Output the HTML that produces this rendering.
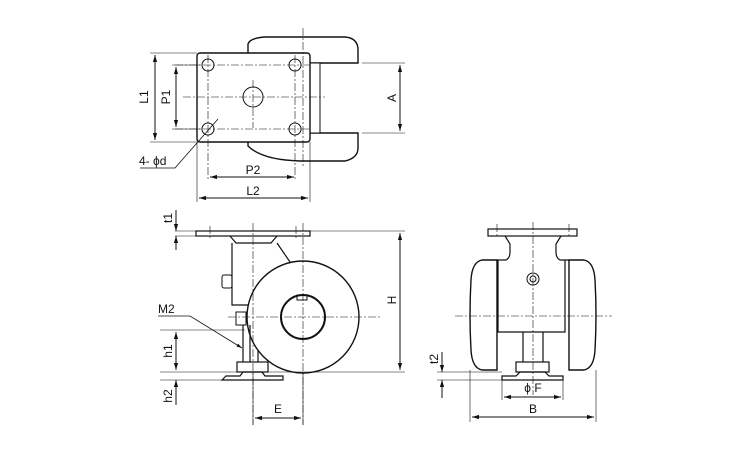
<!DOCTYPE html>
<html><head><meta charset="utf-8"><style>
body{margin:0;background:#fff}
svg{display:block}
text{font-family:"Liberation Sans",sans-serif;font-size:12px;fill:#111}
</style></head><body>
<svg width="750" height="450" viewBox="0 0 750 450">
<defs>
<marker id="a" viewBox="0 0 10 10" refX="10" refY="5" markerWidth="7" markerHeight="7" orient="auto-start-reverse"><path d="M0,2 L10,5 L0,8 z" fill="#111"/></marker>
</defs>
<g fill="none" stroke="#111" stroke-width="1">
<!-- TOP VIEW -->
<path d="M248,63 V44 Q250,38 265,37 H345 Q358,38 358,50 V63 Z" fill="#fff" stroke-width="1.4"/>
<path d="M248,133 V146 Q262,160 300,161 H345 Q358,158 358,148 V133 Z" fill="#fff" stroke-width="1.4"/>
<rect x="310" y="63" width="10" height="70" fill="#fff"/>
<rect x="197" y="53" width="113" height="89" rx="3" fill="#fff" stroke-width="1.4"/>
<circle cx="208" cy="65" r="6"/><circle cx="295" cy="65" r="6"/>
<circle cx="208" cy="129" r="6"/><circle cx="295" cy="129" r="6"/>
<circle cx="253" cy="97" r="10"/>
<g stroke-dasharray="8,2,2,2" stroke-width="0.6">
<path d="M303,28 V168 M183,97 H325 M253,80 V128 M175,65 H310 M175,129 H310 M208,55 V180 M295,55 V180"/>
</g>
<path d="M150,53 H197 M150,142 H197 M172,65 H200 M172,129 H200" stroke-width="0.6"/>
<path d="M155,55 V140" marker-start="url(#a)" marker-end="url(#a)"/>
<path d="M176,67 V127" marker-start="url(#a)" marker-end="url(#a)"/>
<path d="M362,63 H405 M362,133 H405" stroke-width="0.6"/>
<path d="M400,65 V131" marker-start="url(#a)" marker-end="url(#a)"/>
<path d="M197,142 V202 M310,142 V202" stroke-width="0.6"/>
<path d="M210,177 H294" marker-start="url(#a)" marker-end="url(#a)"/>
<path d="M199,198 H308" marker-start="url(#a)" marker-end="url(#a)"/>
<path d="M140,168 H175 L218,119" stroke-width="0.8"/>
<!-- SIDE VIEW -->
<rect x="196" y="231" width="114" height="5" fill="#fff" stroke-width="1.2"/>
<path d="M230,236 L236,243 H271 L277,236" stroke-width="1.2"/>
<path d="M232,243 V305 H250 M277,243 L290,262" stroke-width="1.2"/>
<rect x="222" y="275" width="10" height="13" rx="2"/>
<circle cx="303" cy="317" r="56" fill="#fff" stroke-width="1.4"/>
<circle cx="303" cy="317" r="22" stroke-width="2"/>
<rect x="297" y="295" width="10" height="5"/>
<rect x="236" y="312" width="10" height="13" fill="#fff"/>
<path d="M243,325 V362 M250,325 V362 M258,362 V350" stroke-width="1.2"/>
<rect x="237" y="362" width="31" height="10" fill="#fff" stroke-width="1.2"/>
<path d="M222,380 L226,376 H240 L243,372 H262 L265,376 H283 L283,380 Z" stroke-width="1.2"/>
<g stroke-dasharray="8,2,2,2" stroke-width="0.6">
<path d="M253,223 V425 M303,223 V425 M210,226 V240 M296,226 V240 M228,317 H380"/>
</g>
<path d="M310,231 H405 M175,231 H196 M175,236 H196 M160,330 H245 M160,372 H405 M160,380 H222 M253,372 V425 M303,372 V425" stroke-width="0.6"/>
<path d="M400,233 V370" marker-start="url(#a)" marker-end="url(#a)"/>
<path d="M176,210 V231" marker-end="url(#a)"/>
<path d="M176,250 V236" marker-end="url(#a)"/>
<path d="M176,332 V370" marker-start="url(#a)" marker-end="url(#a)"/>
<path d="M176,405 V380" marker-end="url(#a)"/>
<path d="M255,418 H301" marker-start="url(#a)" marker-end="url(#a)"/>
<path d="M158,316 H190 L242,348" stroke-width="0.8" marker-end="url(#a)"/>
<!-- FRONT VIEW -->
<path d="M482,260 H497 V370 H482 Q472,368 471,350 Q469,315 471,280 Q472,262 482,260 Z" fill="#fff" stroke-width="1.4"/>
<path d="M584,260 H569 V370 H584 Q594,368 595,350 Q597,315 595,280 Q594,262 584,260 Z" fill="#fff" stroke-width="1.4"/>
<path d="M497,268 V300 M569,268 V300" stroke-width="0.6"/>
<path d="M498,260 V332 H565 V260 M497,260 H506 Q510,258 510,252 V244 L505,236 M569,260 H560 Q556,258 556,252 V244 L561,236" stroke-width="1.2"/>
<rect x="488" y="229" width="89" height="7" fill="#fff" stroke-width="1.2"/>
<circle cx="533" cy="279" r="6"/><circle cx="533" cy="279" r="3"/>
<path d="M523,332 V362 M543,332 V362" stroke-width="1.2"/>
<rect x="516" y="362" width="33" height="10" fill="#fff" stroke-width="1.2"/>
<path d="M502,380 V376 H516 L520,372 H545 L549,376 H563 V380 Z" stroke-width="1.2"/>
<g stroke-dasharray="8,2,2,2" stroke-width="0.6">
<path d="M533,222 V395 M455,316 H612 M497,224 V238 M569,224 V238"/>
</g>
<path d="M437,372 H502 M437,380 H502 M502,380 V400 M563,380 V400 M470,370 V422 M596,370 V422" stroke-width="0.6"/>
<path d="M442,352 V372" marker-end="url(#a)"/>
<path d="M442,398 V380" marker-end="url(#a)"/>
<path d="M504,397 H561" marker-start="url(#a)" marker-end="url(#a)"/>
<path d="M472,417 H594" marker-start="url(#a)" marker-end="url(#a)"/>
</g>
<text x="148" y="97" transform="rotate(-90 148 97)" text-anchor="middle">L1</text>
<text x="170" y="97" transform="rotate(-90 170 97)" text-anchor="middle">P1</text>
<text x="396" y="98" transform="rotate(-90 396 98)" text-anchor="middle">A</text>
<text x="253" y="174" text-anchor="middle">P2</text>
<text x="253" y="195" text-anchor="middle">L2</text>
<text x="139" y="165">4- ϕd</text>
<text x="172" y="218" transform="rotate(-90 172 218)" text-anchor="middle">t1</text>
<text x="396" y="300" transform="rotate(-90 396 300)" text-anchor="middle">H</text>
<text x="158" y="313">M2</text>
<text x="172" y="351" transform="rotate(-90 172 351)" text-anchor="middle">h1</text>
<text x="172" y="396" transform="rotate(-90 172 396)" text-anchor="middle">h2</text>
<text x="278" y="413" text-anchor="middle">E</text>
<text x="438" y="359" transform="rotate(-90 438 359)" text-anchor="middle">t2</text>
<text x="533" y="392" text-anchor="middle">ϕ F</text>
<text x="533" y="413" text-anchor="middle">B</text>
</svg>
</body></html>
